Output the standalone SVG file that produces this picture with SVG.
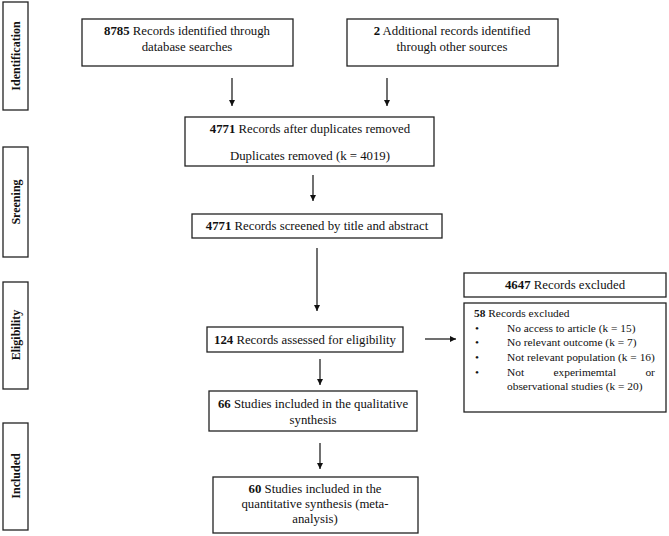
<svg xmlns="http://www.w3.org/2000/svg" width="669" height="536" viewBox="0 0 669 536">
<defs>
<marker id="ah" viewBox="0 0 10 10" refX="10" refY="5" markerWidth="6" markerHeight="6" markerUnits="userSpaceOnUse" orient="auto"><path d="M0,0 L10,5 L0,10 z" fill="#111"/></marker>
<style>
.box{fill:#fff;stroke:#222;stroke-width:1.3}
.t{font-family:"Liberation Serif","Times New Roman",serif;font-size:12.8px;fill:#111}
.s{font-size:11.4px}
.c{text-anchor:middle}
.b{font-weight:bold}
.side{font-family:"Liberation Serif","Times New Roman",serif;font-size:12px;font-weight:bold;fill:#111;text-anchor:middle}
.conn{stroke:#111;stroke-width:1.2;fill:none;marker-end:url(#ah)}
</style>
</defs>
<rect width="669" height="536" fill="#fff"/>
<g id="stage-identification"><rect class="box" x="3" y="2" width="25" height="108"/><text class="side" transform="translate(20,56) rotate(-90)">Identification</text></g>
<g id="stage-screening"><rect class="box" x="3" y="147" width="25" height="110"/><text class="side" transform="translate(20,202) rotate(-90)">Sreening</text></g>
<g id="stage-eligibility"><rect class="box" x="3" y="282" width="25" height="107"/><text class="side" transform="translate(20,335) rotate(-90)">Eligibility</text></g>
<g id="stage-included"><rect class="box" x="3" y="423" width="25" height="107"/><text class="side" transform="translate(20,476) rotate(-90)">Included</text></g>

<g id="n-db"><rect class="box" x="82" y="19" width="211" height="47"/><text class="t c" x="187" y="35"><tspan class="b">8785</tspan> Records identified through</text><text class="t c" x="187" y="51">database searches</text></g>
<g id="n-other"><rect class="box" x="347" y="19" width="211" height="47"/><text class="t c" x="452" y="35"><tspan class="b">2</tspan> Additional records identified</text><text class="t c" x="452" y="51">through other sources</text></g>
<g id="n-dup"><rect class="box" x="185" y="117" width="249" height="49"/><text class="t c" x="310" y="133"><tspan class="b">4771</tspan> Records after duplicates removed</text><text class="t c" x="310" y="160">Duplicates removed (k = 4019)</text></g>
<g id="n-screen"><rect class="box" x="192" y="214" width="250" height="24"/><text class="t c" x="317" y="230"><tspan class="b">4771</tspan> Records screened by title and abstract</text></g>
<g id="n-excl1"><rect class="box" x="464" y="273" width="202" height="24"/><text class="t c" x="565" y="289"><tspan class="b">4647</tspan> Records excluded</text></g>
<g id="n-excl2"><rect class="box" x="464" y="303" width="202" height="109"/>
<text class="t s" x="474" y="317"><tspan class="b">58</tspan> Records excluded</text>
<text class="t s" x="475" y="332">•</text><text class="t s" x="507" y="332">No access to article (k = 15)</text>
<text class="t s" x="475" y="346">•</text><text class="t s" x="507" y="346">No relevant outcome (k = 7)</text>
<text class="t s" x="475" y="361">•</text><text class="t s" x="507" y="361">Not relevant population (k = 16)</text>
<text class="t s" x="475" y="376">•</text><text class="t s" x="507" y="376" word-spacing="26.5">Not experimemtal or</text>
<text class="t s" x="507" y="390">observational studies (k = 20)</text></g>
<g id="n-elig"><rect class="box" x="207" y="327" width="196" height="25"/><text class="t c" x="305" y="344"><tspan class="b">124</tspan> Records assessed for eligibility</text></g>
<g id="n-qual"><rect class="box" x="209" y="391" width="208" height="40"/><text class="t c" x="313" y="408"><tspan class="b">66</tspan> Studies included in the qualitative</text><text class="t c" x="313" y="424">synthesis</text></g>
<g id="n-quant"><rect class="box" x="213" y="477" width="205" height="56"/><text class="t c" x="315" y="493"><tspan class="b">60</tspan> Studies included in the</text><text class="t c" x="315" y="508">quantitative synthesis (meta-</text><text class="t c" x="315" y="523">analysis)</text></g>

<g id="connectors">
<line class="conn" x1="232" y1="78" x2="232" y2="106"/>
<line class="conn" x1="387" y1="78" x2="387" y2="106"/>
<line class="conn" x1="313" y1="175" x2="313" y2="201"/>
<line class="conn" x1="317" y1="248" x2="317" y2="311"/>
<line class="conn" x1="425" y1="339" x2="456" y2="339"/>
<line class="conn" x1="320" y1="359" x2="320" y2="385"/>
<line class="conn" x1="320" y1="443" x2="320" y2="469"/>
</g>
</svg>
